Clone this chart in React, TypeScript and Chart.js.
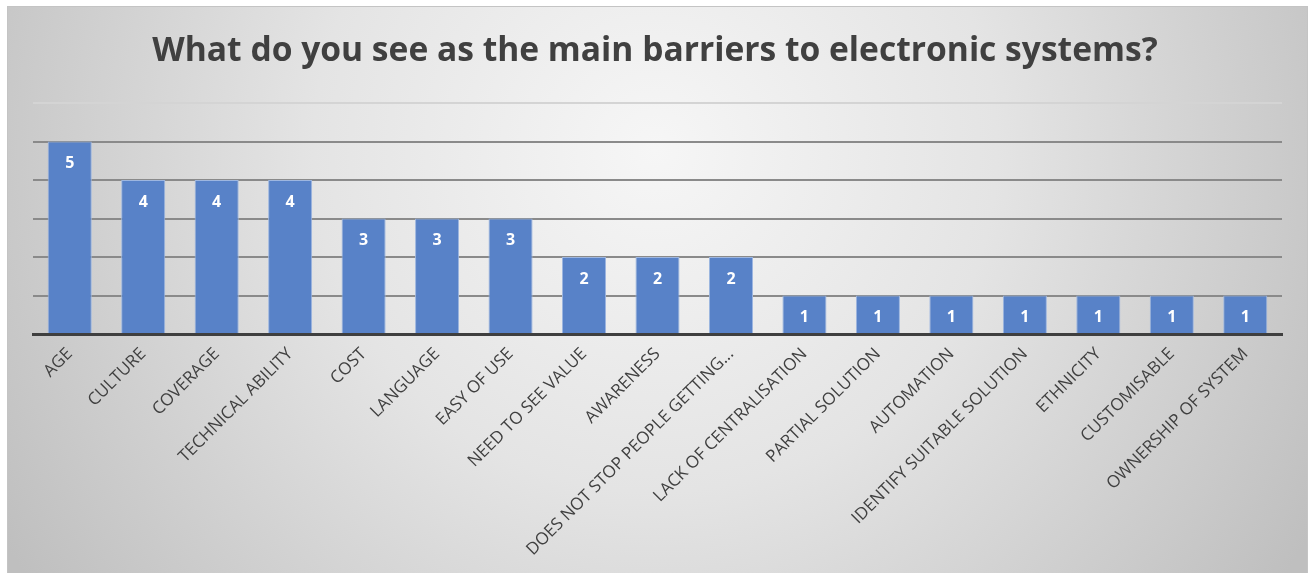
import React, { useEffect, useRef } from "react";
import { Chart, registerables } from "chart.js";

Chart.register(...registerables);

const titleText = "What do you see as the main barriers to electronic systems?";
const categories = [
  "AGE",
  "CULTURE",
  "COVERAGE",
  "TECHNICAL ABILITY",
  "COST",
  "LANGUAGE",
  "EASY OF USE",
  "NEED TO SEE VALUE",
  "AWARENESS",
  "DOES NOT STOP PEOPLE GETTING...",
  "LACK OF CENTRALISATION",
  "PARTIAL SOLUTION",
  "AUTOMATION",
  "IDENTIFY SUITABLE SOLUTION",
  "ETHNICITY",
  "CUSTOMISABLE",
  "OWNERSHIP OF SYSTEM",
];
const counts = [5, 4, 4, 4, 3, 3, 3, 2, 2, 2, 1, 1, 1, 1, 1, 1, 1];
const yMin = 0;
const yMax = 6;

const W = 1311;
const H = 573;

const backgroundPlugin = {
  id: "bgFrame",
  beforeDraw(chart: any) {
    const ctx = chart.ctx;
    ctx.save();
    ctx.fillStyle = "#ffffff";
    ctx.fillRect(0, 0, W, H);
    const g = ctx.createRadialGradient(655, 150, 0, 655, 150, 760);
    g.addColorStop(0, "#f6f6f6");
    g.addColorStop(0.45, "#e4e4e4");
    g.addColorStop(1, "#bfbfbf");
    ctx.fillStyle = g;
    ctx.fillRect(7, 6, 1301, 567);
    ctx.strokeStyle = "#c4c4c4";
    ctx.lineWidth = 1;
    ctx.strokeRect(7.5, 6.5, 1300, 570);
    // title
    ctx.fillStyle = "#404040";
    ctx.font = "bold 33.6px 'Open Sans'";
    ctx.textAlign = "center";
    ctx.textBaseline = "alphabetic";
    ctx.fillText(titleText, 655, 61);
    ctx.restore();
  },
};

const valueLabelPlugin = {
  id: "valueLabels",
  afterDatasetsDraw(chart: any) {
    const ctx = chart.ctx;
    const meta = chart.getDatasetMeta(0);
    ctx.save();
    ctx.fillStyle = "#ffffff";
    ctx.font = "bold 16px 'Open Sans'";
    ctx.textAlign = "center";
    ctx.textBaseline = "middle";
    meta.data.forEach((bar: any, i: number) => {
      ctx.fillText(String(counts[i]), bar.x, bar.y + 22);
    });
    ctx.restore();
  },
};

export default function App() {
  const ref = useRef<HTMLCanvasElement>(null);
  useEffect(() => {
    if (!ref.current) return;
    const chart = new Chart(ref.current, {
      type: "bar",
      data: {
        labels: categories,
        datasets: [
          {
            data: counts,
            backgroundColor: "#5882c8",
            borderColor: "#9db6e0",
            borderWidth: 1,
            categoryPercentage: 0.6,
            barPercentage: 1,
          },
        ],
      },
      plugins: [backgroundPlugin, valueLabelPlugin],
      options: {
        responsive: false,
        animation: false,
        devicePixelRatio: 1,
        layout: { padding: { left: 33, right: 29, top: 103, bottom: 0 } },
        plugins: {
          legend: { display: false },
          title: { display: false },
          tooltip: { enabled: false },
        },
        scales: {
          x: {
            grid: { display: false },
            border: { display: true, color: "#3f3f3f", width: 3 },
            ticks: {
              minRotation: 45,
              maxRotation: 45,
              autoSkip: false,
              color: "#404040",
              font: { family: "'Open Sans'", size: 17 },
              padding: 2,
            },
            afterFit(scale: any) {
              scale.height = H - 334;
            },
          },
          y: {
            min: yMin,
            max: yMax,
            ticks: { display: false, stepSize: 1 },
            border: { display: false },
            grid: {
              drawTicks: false,
              color: (c: any) => (c.tick && c.tick.value === yMax ? "#d4d4d4" : "#8a8a8a"),
              lineWidth: 2,
            },
            afterFit(scale: any) {
              scale.width = 0;
            },
          },
        },
      },
    } as any);
    return () => chart.destroy();
  }, []);
  return (
    <div style={{ position: "fixed", left: 0, top: 0, width: W, height: H }}>
      <canvas ref={ref} width={W} height={H} style={{ display: "block", width: W, height: H }} />
    </div>
  );
}
